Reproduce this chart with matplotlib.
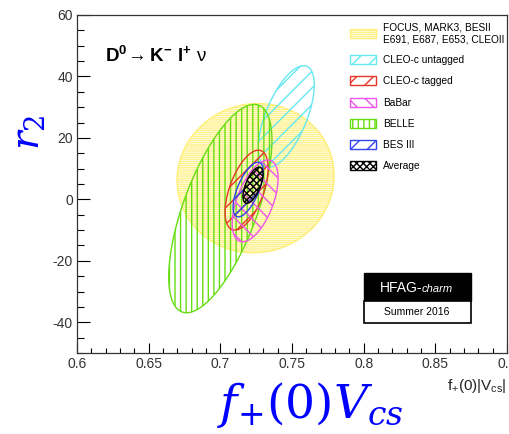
import numpy as np
import matplotlib
matplotlib.use('Agg')
import matplotlib.pyplot as plt
from matplotlib.patches import Patch, Rectangle
from matplotlib.ticker import MultipleLocator

plt.rcParams['font.family'] = ['Liberation Sans', 'DejaVu Sans']
plt.rcParams['mathtext.fontset'] = 'custom'
plt.rcParams['mathtext.rm'] = 'DejaVu Serif'
plt.rcParams['mathtext.it'] = 'DejaVu Serif:italic'
plt.rcParams['mathtext.bf'] = 'Liberation Sans:bold'
plt.rcParams['mathtext.sf'] = 'Liberation Sans'
plt.rcParams['axes.unicode_minus'] = False
plt.rcParams['hatch.linewidth'] = 1.0

# measurements: 1-sigma contours in the (f+(0)|Vcs|, r2) plane
labels = ['FOCUS, MARK3, BESII\nE691, E687, E653, CLEOII', 'CLEO-c untagged',
          'CLEO-c tagged', 'BaBar', 'BELLE', 'BES III', 'Average']
center_x = [0.7246, 0.7460, 0.7183, 0.7243, 0.7000, 0.7194, 0.7228]
center_y = [6.9, 27.0, 3.0, -0.5, -3.0, 3.2, 4.6]
sigma_x = [0.0548, 0.0195, 0.0150, 0.0160, 0.0360, 0.0105, 0.0070]
sigma_y = [24.3, 16.5, 13.0, 13.3, 33.9, 8.9, 5.9]
rho = [0.03, 0.62, 0.55, 0.55, 0.655, 0.65, 0.62]

colors = ['#ffe83a', '#66e8f0', '#e8352a', '#ee55ee', '#66dd11', '#3344ee', 'black']
alphas = [0.6, 1, 1, 1, 1, 1, 1]
hatches = ['--------', '//', '//', '\\\\', '|||', '//', 'xxxxx']
draw_order = [0, 1, 4, 2, 3, 5, 6]

x_ticks = [0.6, 0.65, 0.7, 0.75, 0.8, 0.85, 0.9]
y_ticks = [-40, -20, 0, 20, 40, 60]


def contour(i, n=200):
    t = np.linspace(0, 2 * np.pi, n)
    x = center_x[i] + sigma_x[i] * np.cos(t)
    y = center_y[i] + sigma_y[i] * (rho[i] * np.cos(t) + np.sqrt(1 - rho[i] ** 2) * np.sin(t))
    return x, y


fig = plt.figure(figsize=(5.1, 4.34), dpi=100)
ax = fig.add_axes([77 / 510, 81 / 434, 430 / 510, 338 / 434])

for i in draw_order:
    x, y = contour(i)
    ax.fill(x, y, facecolor='none', edgecolor=colors[i], hatch=hatches[i], linewidth=1.0,
            alpha=alphas[i])

ax.set_xlim(0.6, 0.9)
ax.set_ylim(-50, 60)
ax.set_xticks(x_ticks)
ax.set_xticklabels(['0.6', '0.65', '0.7', '0.75', '0.8', '0.85', '0.9'])
ax.set_yticks(y_ticks)
ax.xaxis.set_minor_locator(MultipleLocator(0.01))
ax.yaxis.set_minor_locator(MultipleLocator(5))
ax.tick_params(axis='x', which='major', direction='in', length=7, width=0.8, labelsize=10,
               labelcolor='#333333', pad=3)
ax.tick_params(axis='x', which='minor', direction='in', length=3.8, width=0.8)
ax.tick_params(axis='y', which='major', direction='in', length=9.5, width=0.8, labelsize=10,
               labelcolor='#333333', pad=3)
ax.tick_params(axis='y', which='minor', direction='in', length=5, width=0.8)
for s in ax.spines.values():
    s.set_color('#333333')
    s.set_linewidth(0.9)

handles = [Patch(facecolor='none', edgecolor=colors[i], hatch=hatches[i], linewidth=1.0,
                 alpha=alphas[i]) for i in range(len(labels))]
ax.legend(handles, labels, loc='upper left', bbox_to_anchor=(0.625, 0.99), frameon=False,
          fontsize=7.3, handlelength=2.6, handleheight=1.0, handletextpad=0.7,
          labelspacing=1.1, borderaxespad=0)

ax.text(0.065, 0.86, r'$\mathbf{D^0\!\rightarrow K^{-}\ l^{+}}\ \mathsf{\nu}$',
        transform=ax.transAxes, fontsize=13.5, ha='left', va='baseline')

# HFAG-charm stamp
fig.patches.append(Rectangle((364 / 510, 1 - 301 / 434), 107 / 510, 28 / 434,
                             transform=fig.transFigure, facecolor='black', edgecolor='black'))
fig.patches.append(Rectangle((364 / 510, 1 - 323 / 434), 107 / 510, 22 / 434,
                             transform=fig.transFigure, facecolor='white', edgecolor='black',
                             linewidth=1.2))
fig.text(380 / 510, 1 - 288 / 434, 'HFAG-', color='white', fontsize=10, va='center', ha='left')
fig.text(422 / 510, 1 - 289 / 434, 'charm', color='white', fontsize=8, style='italic',
         va='center', ha='left')
fig.text(417 / 510, 1 - 312 / 434, 'Summer 2016', color='black', fontsize=7.5,
         va='center', ha='center')

fig.text(507 / 510, 1 - 386 / 434, r'f$_{\mathsf{+}}$(0)|V$_{\mathsf{cs}}$|', fontsize=11,
         ha='right', va='center', color='#222222')

# big blue labels
fig.text(310 / 510, 1 - 405 / 434, r'$f_{+}(0)V_{cs}$', color='#0000ff', fontsize=34,
         ha='center', va='center')
fig.text(29 / 510, 1 - 132 / 434, r'$r_{2}$', color='#0000ff', fontsize=28, rotation=90,
         ha='center', va='center')

fig.savefig('out.png', dpi=100)
